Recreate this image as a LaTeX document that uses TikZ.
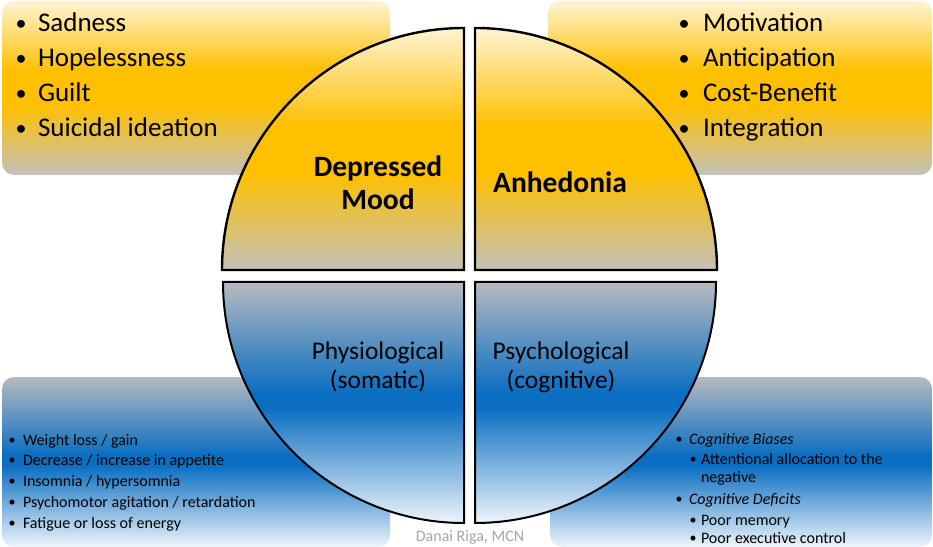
\documentclass[tikz,border=0pt]{standalone}
\usepackage{fontspec}
\setmainfont{Carlito}

% gradient colours
\definecolor{warmtop}{HTML}{FFF4D4}
\definecolor{gold}{HTML}{FFC000}
\definecolor{warmlow}{HTML}{C3C1BA}
\definecolor{coldtop}{HTML}{B6BAC0}
\definecolor{blue}{HTML}{0A6EC2}
\definecolor{coldlow}{HTML}{EEF5FB}
\definecolor{credit}{HTML}{A6A6A6}

% vertical gradients (the path's box is mapped onto 25bp..75bp)
\pgfdeclareverticalshading{warm}{100bp}{%
  color(0bp)=(warmlow); color(25bp)=(warmlow);
  color(45bp)=(gold); color(55bp)=(gold);
  color(75bp)=(warmtop); color(100bp)=(warmtop)}
\pgfdeclareverticalshading{cold}{100bp}{%
  color(0bp)=(coldlow); color(25bp)=(coldlow);
  color(49bp)=(blue); color(52bp)=(blue);
  color(75bp)=(coldtop); color(100bp)=(coldtop)}

\begin{document}
\begin{tikzpicture}[x=1bp,y=-1bp,
  warmbox/.style={shading=warm, rounded corners=12bp},
  coldbox/.style={shading=cold, rounded corners=12bp},
  warmquad/.style={shading=warm, draw=black, line width=2.4bp, line join=miter},
  coldquad/.style={shading=cold, draw=black, line width=2bp, line join=miter},
  txt/.style={inner sep=0pt, outer sep=0pt, text=black},
  biglist/.style={txt, font=\fontsize{27bp}{30bp}\selectfont},
  bigbullet/.style={txt, font=\fontsize{22bp}{24bp}\selectfont},
  smalllist/.style={txt, font=\fontsize{16bp}{18bp}\selectfont},
  smallbullet/.style={txt, font=\fontsize{14bp}{16bp}\selectfont},
  boldlabel/.style={txt, font=\fontsize{29.5bp}{33bp}\selectfont\bfseries},
  label/.style={txt, font=\fontsize{25.5bp}{29bp}\selectfont},
]
\useasboundingbox (0,0) rectangle (933,547);

% rounded background boxes
\shade[warmbox] (2,1) rectangle (390,175);
\shade[warmbox] (548,1) rectangle (932,175);
\shade[coldbox] (2,377) rectangle (390,547);
\shade[coldbox] (550,377) rectangle (932,547);

% four quarter discs
\shadedraw[warmquad] (464,270) -- (222,270) arc[start angle=180, end angle=270, radius=242] -- cycle;
\shadedraw[warmquad] (475,270) -- (717,270) arc[start angle=0, end angle=-90, radius=242] -- cycle;
\shadedraw[coldquad] (464,282) -- (223,282) arc[start angle=180, end angle=90, radius=241] -- cycle;
\shadedraw[coldquad] (475,282) -- (716,282) arc[start angle=0, end angle=90, radius=241] -- cycle;

% quadrant titles
\node[boldlabel, anchor=base] (dep) at (378,177) {Depressed};
\node[boldlabel, anchor=base] (mood) at (378,210) {Mood};
\node[boldlabel, anchor=base] (anh) at (560,193) {Anhedonia};
\node[label, anchor=base] (phys) at (378,360) {Physiological};
\node[label, anchor=base] (soma) at (378,388) {(somatic)};
\node[label, anchor=base] (psyc) at (561,360) {Psychological};
\node[label, anchor=base] (cogn) at (561,388) {(cognitive)};

% mood list
\foreach \t [count=\i] in {Sadness,Hopelessness,Guilt,Suicidal ideation} {
  \node[bigbullet, anchor=base] (moodbul\i) at (21,{31+35*(\i-1)}) {•};
  \node[biglist, anchor=base west] (mood\i) at (38,{32+35*(\i-1)}) {\t};
}

% anhedonia list
\foreach \t [count=\i] in {Motivation,Anticipation,Cost-Benefit,Integration} {
  \node[bigbullet, anchor=base] (anhbul\i) at (684,{31+35*(\i-1)}) {•};
  \node[biglist, anchor=base west] (anh\i) at (703,{32+35*(\i-1)}) {\t};
}

% somatic list
\foreach \t [count=\i] in {Weight loss / gain,Decrease / increase in appetite,Insomnia / hypersomnia,Psychomotor agitation / retardation,Fatigue or loss of energy} {
  \node[smallbullet, anchor=base] (somabul\i) at (12,{444+20.75*(\i-1)}) {•};
  \node[smalllist, anchor=base west] (soma\i) at (23,{445+20.75*(\i-1)}) {\t};
}

% cognitive list
\node[smallbullet, anchor=base] (cgbul1) at (679,443) {•};
\node[smalllist, anchor=base west] (cg1) at (689,444) {\itshape Cognitive Biases};
\node[smallbullet, anchor=base] (cgbul2) at (693,463) {•};
\node[smalllist, anchor=base west] (cg2) at (701,464) {Attentional allocation to the};
\node[smalllist, anchor=base west] (cg2b) at (701,482) {negative};
\node[smallbullet, anchor=base] (cgbul3) at (679,503) {•};
\node[smalllist, anchor=base west] (cg3) at (689,504) {\itshape Cognitive Deficits};
\node[smallbullet, anchor=base] (cgbul4) at (693,524) {•};
\node[smalllist, anchor=base west] (cg4) at (701,525) {Poor memory};
\node[smallbullet, anchor=base] (cgbul5) at (693,542) {•};
\node[smalllist, anchor=base west] (cg5) at (701,543) {Poor executive control};

% credit line
\node[smalllist, anchor=base, text=credit] (credit) at (470,541) {Danai Riga, MCN};
\end{tikzpicture}
\end{document}
